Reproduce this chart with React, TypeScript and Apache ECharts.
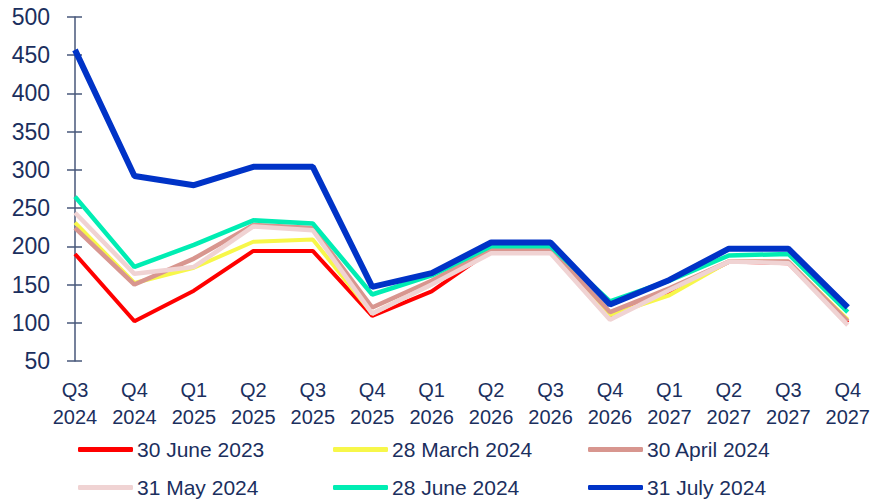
import React, { useEffect, useRef } from "react";
import * as echarts from "echarts";

const categories = [
  "Q3\n2024", "Q4\n2024", "Q1\n2025", "Q2\n2025", "Q3\n2025", "Q4\n2025", "Q1\n2026",
  "Q2\n2026", "Q3\n2026", "Q4\n2026", "Q1\n2027", "Q2\n2027", "Q3\n2027", "Q4\n2027",
];

const june2023 = [190, 102, 142, 194, 194, 109, 141, 195, 195, 108, 140, 180, 178, 100];
const march2024 = [231, 152, 172, 206, 209, 112, 150, 195, 195, 110, 136, 180, 180, 104];
const april2024 = [224, 150, 184, 228, 224, 120, 155, 196, 196, 114, 145, 180, 180, 102];
const may2024 = [244, 164, 173, 226, 221, 112, 150, 191, 191, 104, 143, 180, 178, 97];
const june2024 = [265, 173, 202, 234, 230, 137, 162, 200, 200, 128, 155, 188, 190, 114];
const july2024 = [457, 292, 280, 304, 304, 147, 165, 205, 205, 124, 156, 197, 197, 120];

const seriesNames = [
  "30 June 2023", "28 March 2024", "30 April 2024",
  "31 May 2024", "28 June 2024", "31 July 2024",
];
const seriesData = [june2023, march2024, april2024, may2024, june2024, july2024];
const seriesColors = ["#FF0000", "#F7F74A", "#D8968F", "#F0D3D3", "#00EDB3", "#0033C7"];
const seriesWidths = [4, 4, 4.5, 4.5, 4.5, 6];

const TEXT = "#1B2F5E";
const AXIS = "#47577A";
const FONT = "'Liberation Sans', Arial, sans-serif";

export default function App() {
  const ref = useRef<HTMLDivElement>(null);
  useEffect(() => {
    if (!ref.current) return;
    const chart = echarts.init(ref.current, undefined, { renderer: "svg" });
    const legendPos = [
      { left: 78, top: 439 }, { left: 333, top: 439 }, { left: 588, top: 439 },
      { left: 78, top: 477 }, { left: 333, top: 477 }, { left: 588, top: 477 },
    ];
    chart.setOption({
      animation: false,
      backgroundColor: "#ffffff",
      grid: { left: 75, right: 24, top: 17, bottom: 139, containLabel: false },
      xAxis: {
        type: "category",
        data: categories,
        boundaryGap: false,
        axisLine: { show: false },
        axisTick: { show: false },
        splitLine: { show: false },
        axisLabel: {
          color: TEXT,
          fontFamily: FONT,
          fontSize: 20,
          lineHeight: 27,
          margin: 15,
          interval: 0,
        },
      },
      yAxis: [
        {
          type: "value",
          min: 50,
          max: 500,
          interval: 50,
          position: "left",
          axisLine: { show: true, lineStyle: { color: AXIS, width: 1.5 } },
          axisTick: { show: true, length: 8, lineStyle: { color: AXIS, width: 1.5 } },
          splitLine: { show: false },
          axisLabel: { color: TEXT, fontFamily: FONT, fontSize: 23, margin: 25 },
        },
        {
          type: "value",
          min: 50,
          max: 500,
          interval: 50,
          position: "left",
          offset: 0,
          axisLine: { show: false },
          axisTick: { show: true, inside: true, length: 7, lineStyle: { color: AXIS, width: 1.5 } },
          splitLine: { show: false },
          axisLabel: { show: false },
        },
      ],
      legend: seriesNames.map((name, i) => ({
        data: [name],
        left: legendPos[i].left,
        top: legendPos[i].top,
        icon: "roundRect",
        itemWidth: 55,
        itemHeight: 5,
        itemGap: 0,
        padding: 0,
        textStyle: { color: TEXT, fontFamily: FONT, fontSize: 21, padding: [0, 0, 0, -1] },
        selectedMode: false,
      })),
      series: seriesNames.map((name, i) => ({
        name,
        type: "line",
        data: seriesData[i],
        yAxisIndex: 0,
        symbol: "none",
        showSymbol: false,
        color: seriesColors[i],
        lineStyle: { color: seriesColors[i], width: seriesWidths[i] },
        z: 2 + i,
      })),
    });
    return () => chart.dispose();
  }, []);
  return (
    <div
      ref={ref}
      style={{ position: "absolute", left: 0, top: 0, width: 873, height: 500 }}
    />
  );
}
